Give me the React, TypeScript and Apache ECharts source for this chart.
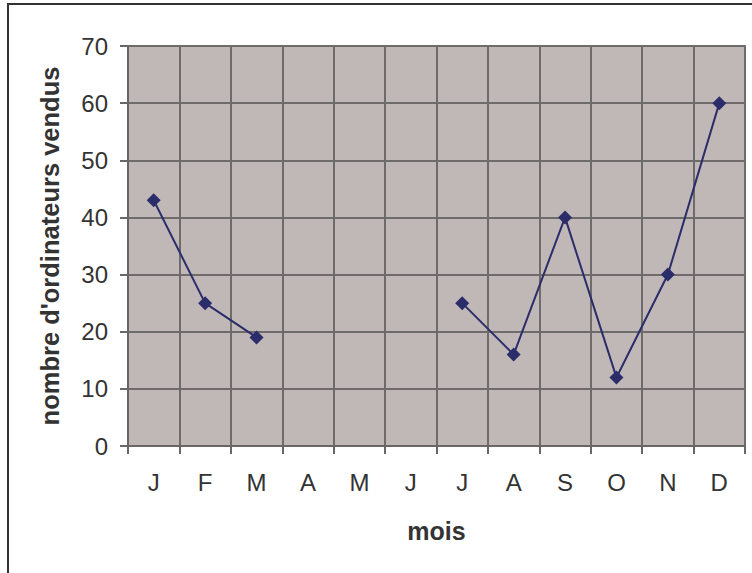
import React, { useEffect, useRef } from "react";
import * as echarts from "echarts";

const months = ["J", "F", "M", "A", "M", "J", "J", "A", "S", "O", "N", "D"];
const sales: (number | null)[] = [43, 25, 19, null, null, null, 25, 16, 40, 12, 30, 60];
const yAxisTitle = "nombre d'ordinateurs vendus";
const xAxisTitle = "mois";

export default function App() {
  const ref = useRef<HTMLDivElement>(null);
  useEffect(() => {
    if (!ref.current) return;
    const chart = echarts.init(ref.current, undefined, { renderer: "svg" });
    const font = "Liberation Sans, Arial, sans-serif";
    chart.setOption({
      animation: false,
      backgroundColor: "#ffffff",
      textStyle: { fontFamily: font },
      graphic: [
        {
          type: "rect",
          shape: { x: 8, y: 4, width: 800, height: 620 },
          style: { fill: "none", stroke: "#333333", lineWidth: 2 },
          silent: true,
        },
      ],
      grid: {
        left: 128,
        top: 46,
        right: 7,
        bottom: 127,
        show: true,
        backgroundColor: "#c0b8b6",
        borderColor: "#8c8482",
        borderWidth: 2,
      },
      xAxis: {
        type: "category",
        data: months,
        boundaryGap: true,
        name: xAxisTitle,
        nameLocation: "middle",
        nameGap: 72,
        nameTextStyle: { fontSize: 25, fontWeight: "bold", color: "#333333", fontFamily: font },
        axisLine: { show: true, lineStyle: { color: "#6a6666", width: 2 } },
        axisTick: { show: true, length: 8, lineStyle: { color: "#6a6666", width: 2 }, alignWithLabel: false },
        axisLabel: { fontSize: 24, color: "#333333", margin: 24, fontFamily: font },
        splitLine: { show: true, lineStyle: { color: "#6f6b6b", width: 2 } },
      },
      yAxis: {
        type: "value",
        min: 0,
        max: 70,
        interval: 10,
        name: yAxisTitle,
        nameLocation: "middle",
        nameGap: 65,
        nameTextStyle: { fontSize: 25.5, fontWeight: "bold", color: "#333333", fontFamily: font },
        axisLine: { show: true, lineStyle: { color: "#6a6666", width: 2 } },
        axisTick: { show: true, length: 8, lineStyle: { color: "#6a6666", width: 2 } },
        axisLabel: { fontSize: 24, color: "#333333", margin: 20, fontFamily: font },
        splitLine: { show: true, lineStyle: { color: "#6f6b6b", width: 2 } },
      },
      series: [
        {
          type: "line",
          data: sales,
          connectNulls: false,
          symbol: "diamond",
          symbolSize: 14,
          lineStyle: { color: "#2b2d6b", width: 2 },
          itemStyle: { color: "#2b2d6b" },
        },
      ],
    });
    return () => chart.dispose();
  }, []);
  return (
    <div
      ref={ref}
      style={{ position: "absolute", left: 0, top: 0, width: 752, height: 573 }}
    />
  );
}
